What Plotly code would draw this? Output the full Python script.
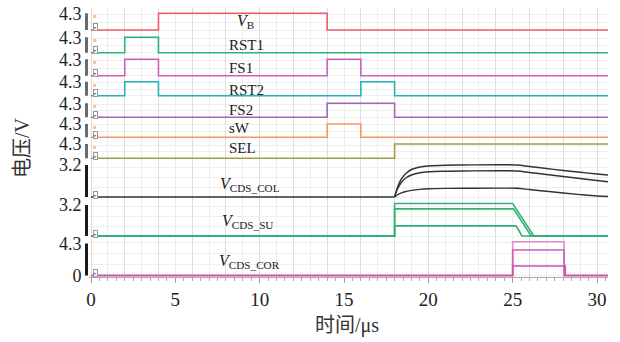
import plotly.graph_objects as go

# ---------------- data ----------------
T_END = 30.65
VB_t   = [0, 4, 14, T_END];            VB_v   = [0, 4.3, 0, 0]
RST1_t = [0, 2, 4, T_END];             RST1_v = [0, 4.3, 0, 0]
FS1_t  = [0, 2, 4, 14, 16, T_END];     FS1_v  = [0, 4.3, 0, 4.3, 0, 0]
RST2_t = [0, 2, 4, 16, 18, T_END];     RST2_v = [0, 4.3, 0, 4.3, 0, 0]
FS2_t  = [0, 14, 18, T_END];           FS2_v  = [0, 4.3, 0, 0]
SW_t   = [0, 14, 16, T_END];           SW_v   = [0, 4.3, 0, 0]
SEL_t  = [0, 18, T_END];               SEL_v  = [0, 4.3, 4.3]

COL_base_t = [0, 18]; COL_base_v = [0, 0]
COL_t = [18, 18.2, 18.4, 18.7, 19.0, 19.5, 20, 21, 22, 25.2, 26, 27, 28, 29, 30, T_END]
COL_top = [0, 1.1, 1.8, 2.4, 2.75, 3.0, 3.1, 3.18, 3.2, 3.2, 3.05, 2.85, 2.65, 2.47, 2.3, 2.2]
COL_mid = [0, 0.9, 1.45, 1.95, 2.2, 2.42, 2.52, 2.58, 2.6, 2.6, 2.45, 2.25, 2.05, 1.85, 1.65, 1.53]
COL_low = [0, 0.25, 0.42, 0.56, 0.66, 0.76, 0.82, 0.86, 0.87, 0.87, 0.75, 0.57, 0.4, 0.24, 0.1, 0.05]

SU_top_t = [0, 18, 18, 25.0, 26.25, T_END]; SU_top_v = [0, 0, 3.35, 3.35, 0, 0]
SU_mid_t = [0, 18, 18, 25.05, 26.1, T_END]; SU_mid_v = [0, 0, 2.8, 2.8, 0, 0]
SU_low_t = [0, 18, 18, 25.2, 25.55, T_END]; SU_low_v = [0, 0, 1.05, 1.05, 0, 0]

COR_t = [0, 25, 28.05, T_END]
COR_top = [0, 4.54, 0, 0]
COR_mid = [0, 3.43, 0, 0]
COR_low_t = [0, 25, 28.12, T_END]
COR_low = [0, 1.28, 0, 0]

X_TICKS = [0, 5, 10, 15, 20, 25, 30]

# ---------------- layout geometry (pixels) ----------------
W, H = 620, 342
L, R, TOP, BOT = 89, 608, 8, 277
PPU_X = 16.867
X_MIN = -(91 - L) / PPU_X
X_MAX = X_MIN + (R - L) / PPU_X

# (top px, bottom px, px of v0, px of v1, v0, v1, tickvals, ticktext, grid dtick, bar colour)
panels = [
    (8,   34,  30.0, 13.3, 0, 4.3, [4.3], ["4.3"], 2, "#6a6a6a"),
    (34,  56.5, 52.7, 37.3, 0, 4.3, [4.3], ["4.3"], 2, "#6a6a6a"),
    (56.5, 78.5, 75.7, 59.3, 0, 4.3, [4.3], ["4.3"], 2, "#6a6a6a"),
    (78.5, 99.5, 95.7, 81.7, 0, 4.3, [4.3], ["4.3"], 2, "#6a6a6a"),
    (99.5, 120.5, 117.3, 103.3, 0, 4.3, [4.3], ["4.3"], 2, "#6a6a6a"),
    (120.5, 141, 137.3, 124.0, 0, 4.3, [4.3], ["4.3"], 2, "#6a6a6a"),
    (141, 161.5, 158.3, 144.0, 0, 4.3, [4.3], ["4.3"], 2, "#6a6a6a"),
    (161.5, 200, 197.0, 165.0, 0, 3.2, [3.2], ["3.2"], 1, "#1a1a1a"),
    (200, 239.5, 236.0, 205.0, 0, 3.2, [3.2], ["3.2"], 1, "#1a1a1a"),
    (239.5, 277, 275.5, 243.5, 0, 4.3, [0, 4.3], ["0", "4.3"], 1.5, "#1a1a1a"),
]

def py2paper(py):
    return (BOT - py) / (BOT - TOP)

def px2paper(px):
    return (px - L) / (R - L)

SERIF = "Liberation Serif, Times New Roman, serif"
CJK = "Liberation Serif, Noto Sans CJK SC, sans-serif"

fig = go.Figure()

def add(t, v, panel, color, shape="hv", width=1.6):
    fig.add_trace(go.Scatter(
        x=t, y=v, mode="lines", line=dict(color=color, width=width, shape=shape),
        xaxis="x" if panel == 1 else f"x{panel}", yaxis="y" if panel == 1 else f"y{panel}",
        showlegend=False, hoverinfo="skip"))

add(VB_t, VB_v, 1, "#ef5b6c")
add(RST1_t, RST1_v, 2, "#2bb37c")
add(FS1_t, FS1_v, 3, "#cf5fb6")
add(RST2_t, RST2_v, 4, "#25b3b6")
add(FS2_t, FS2_v, 5, "#a167b3")
add(SW_t, SW_v, 6, "#f69860")
add(SEL_t, SEL_v, 7, "#a39d48")
add(COL_base_t, COL_base_v, 8, "#333333", shape="linear")
for c in (COL_top, COL_mid, COL_low):
    add(COL_t, c, 8, "#333333", shape="spline", width=1.4)
add(SU_top_t, SU_top_v, 9, "#2bb673", shape="linear")
add(SU_mid_t, SU_mid_v, 9, "#31b36f", shape="linear")
add(SU_low_t, SU_low_v, 9, "#2fae78", shape="linear")
add(COR_t, COR_top, 10, "#e38ccf")
add(COR_t, COR_mid, 10, "#d35cb5")
add(COR_low_t, COR_low, 10, "#c953b0")
# invisible trace for the labelled bottom axis
fig.add_trace(go.Scatter(x=[0, 30], y=[0, 0], xaxis="x11", yaxis="y10", mode="lines",
                         line=dict(width=0, color="rgba(0,0,0,0)"), showlegend=False,
                         hoverinfo="skip"))

lay = dict(width=W, height=H, margin=dict(l=L, r=W - R, t=TOP, b=H - BOT, autoexpand=False),
           plot_bgcolor="white", paper_bgcolor="white", showlegend=False)

shapes = []
annotations = []
for i, (top, bot, p0, p1, v0, v1, tv, tt, gd, barc) in enumerate(panels, start=1):
    ppu = (p0 - p1) / (v1 - v0)
    r0 = v0 - (bot - p0) / ppu
    r1 = v1 + (p1 - top) / ppu
    yname = "yaxis" if i == 1 else f"yaxis{i}"
    xname = "xaxis" if i == 1 else f"xaxis{i}"
    lay[yname] = dict(
        domain=[py2paper(bot), py2paper(top)], range=[r0, r1], anchor="x" if i == 1 else f"x{i}",
        tickmode="array", tickvals=tv, ticktext=tt, showgrid=False, zeroline=False,
        ticks="outside", ticklen=3, tickcolor="rgba(0,0,0,0)", automargin=False,
        tickfont=dict(family=SERIF, size=18, color="#222"), showline=False,
        minor=dict(dtick=gd, tick0=0, showgrid=True, gridcolor="#eeeeee", gridwidth=1, ticks=""),
        fixedrange=True)
    xa = dict(domain=[0, 1], range=[X_MIN, X_MAX], anchor="y" if i == 1 else f"y{i}",
              showticklabels=False, ticks="", dtick=2, tick0=0, showgrid=True, automargin=False,
              gridcolor="#dedede", gridwidth=1, zeroline=False, showline=False,
              minor=dict(dtick=1, tick0=0, showgrid=True, gridcolor="#ededed", ticks=""))
    if i > 1:
        xa["matches"] = "x"
    lay[xname] = xa
    # ruler bar on the left of each panel
    shapes.append(dict(type="line", xref="paper", yref="y" if i == 1 else f"y{i}",
                       x0=px2paper(86.5), x1=px2paper(86.5), y0=v0, y1=v1,
                       line=dict(color=barc, width=3)))
    # small box icon
    annotations.append(dict(xref="paper", yref="paper", x=px2paper(95), y=py2paper(p0 - 2.5),
                            xanchor="center", yanchor="middle",
                            text="▸", showarrow=False, font=dict(size=5, color="#777"),
                            bordercolor="#999", borderwidth=1, borderpad=0, bgcolor="white"))
    if i <= 7:
        annotations.append(dict(xref="paper", yref="paper", x=px2paper(95), y=py2paper(p1 + 3),
                                xanchor="center", yanchor="middle",
                                text="■", showarrow=False, font=dict(size=6, color="#f2c39a")))

lay["xaxis11"] = dict(overlaying="x10", anchor="y10", side="bottom", range=[X_MIN, X_MAX],
                      tickmode="array", tickvals=X_TICKS, ticktext=[str(v) for v in X_TICKS],
                      ticks="outside", ticklen=5, tickcolor="#999", showline=True,
                      linecolor="#aaaaaa", linewidth=1, showgrid=False, zeroline=False,
                      automargin=False,
                      tickfont=dict(family=SERIF, size=19, color="#222"),
                      minor=dict(dtick=0.5, tick0=0, ticks="outside", ticklen=3,
                                 tickcolor="#aaa", showgrid=False))

labels = [
    ("<i>V</i><sub>B</sub>", 235, 21.5, 16),
    ("RST1", 227, 45, 15),
    ("FS1", 227, 68, 15),
    ("RST2", 227, 89.5, 15),
    ("FS2", 227, 110, 15),
    ("sW", 227, 128, 15),
    ("SEL", 227, 148, 15),
    ("<i>V</i><sub>CDS_COL</sub>", 218, 184, 16),
    ("<i>V</i><sub>CDS_SU</sub>", 220, 221, 16),
    ("<i>V</i><sub>CDS_COR</sub>", 217, 261, 16),
]
for txt, px, py, fs in labels:
    annotations.append(dict(xref="paper", yref="paper", x=px2paper(px), y=py2paper(py),
                            xanchor="left", yanchor="middle", text=txt, showarrow=False,
                            font=dict(family=SERIF, size=fs, color="#222")))

annotations.append(dict(xref="paper", yref="paper", x=px2paper(347), y=py2paper(325),
                        xanchor="center", yanchor="middle",
                        text="时间/μs", showarrow=False,
                        font=dict(family=CJK, size=20, color="#333")))
annotations.append(dict(xref="paper", yref="paper", x=px2paper(22), y=py2paper(148),
                        xanchor="center", yanchor="middle",
                        text="电压/V", textangle=-90, showarrow=False,
                        font=dict(family=CJK, size=20, color="#333")))

lay["shapes"] = shapes
lay["annotations"] = annotations
fig.update_layout(**lay)
fig.write_html("out.html", config={"displayModeBar": False},
               post_script="document.body.style.margin='0';document.body.style.overflow='hidden';")
